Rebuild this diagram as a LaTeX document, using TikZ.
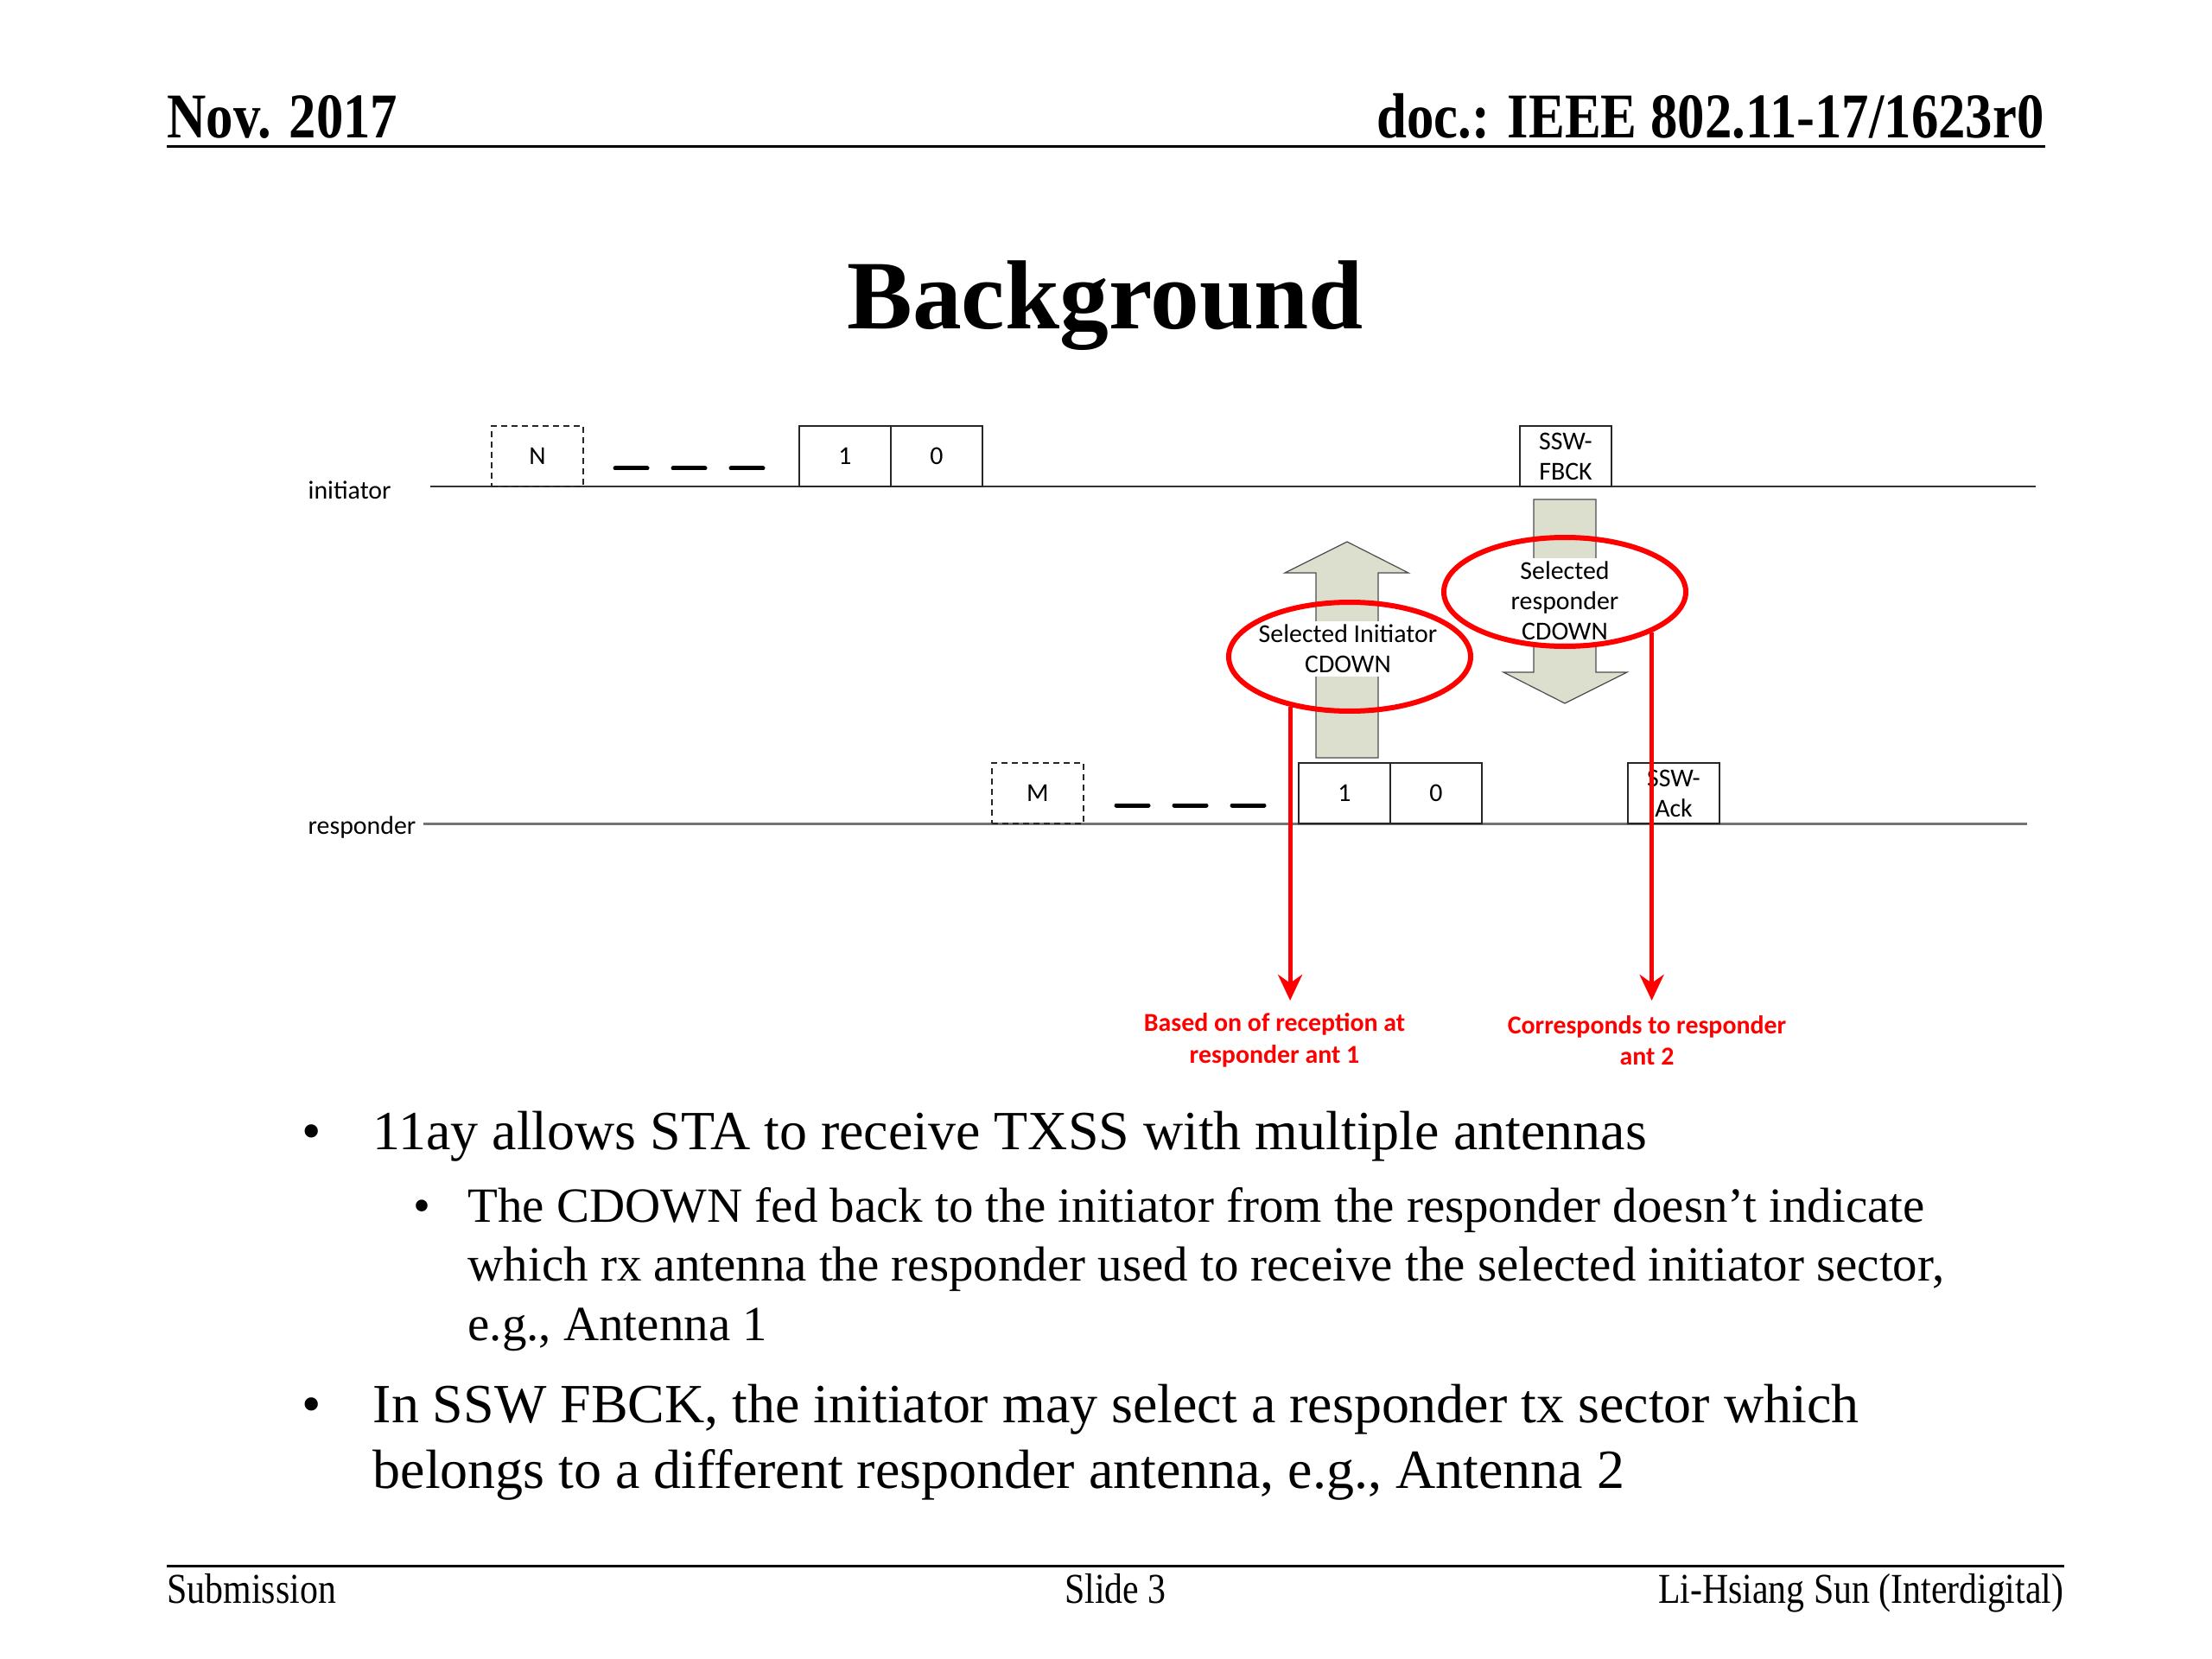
\documentclass[tikz,border=0pt]{standalone}
\usepackage{fontspec}
\setmainfont{Liberation Serif}
\newfontfamily\calib{Carlito}
\newfontfamily\hdrfont[FakeStretch=0.85]{Liberation Serif}
\usetikzlibrary{shapes.geometric,arrows.meta}
\definecolor{arrfill}{RGB}{221,223,206}
\definecolor{pptred}{RGB}{255,0,0}
\tikzset{
  slidetxt/.style={inner sep=0pt},
  diag/.style={font=\calib\fontsize{8.5}{10}\selectfont},
  slot/.style={diag,draw=black!85,line width=0.015cm,minimum width=1.06cm,minimum height=0.7cm,inner sep=0pt,align=center},
  dslot/.style={slot,dash pattern=on 0.07cm off 0.05cm},
  ring/.style={ellipse,draw=pptred,line width=0.06cm,minimum width=2.8cm,minimum height=1.26cm,inner sep=0pt},
  blockarr/.style={draw=black!70,fill=arrfill,line width=0.012cm,line join=miter},
  redarr/.style={draw=pptred,line width=0.05cm,-{Stealth[length=0.3cm,width=0.28cm]}},
  redtxt/.style={font=\calib\bfseries\fontsize{8.5}{10.4}\selectfont,text=pptred,align=center},
  lvlone/.style={slidetxt,anchor=base west,font=\fontsize{18.2}{22}\selectfont},
  lvltwo/.style={slidetxt,anchor=base west,font=\fontsize{16.2}{19}\selectfont},
  foot/.style={slidetxt,font=\hdrfont\fontsize{14}{16}\selectfont}
}
\begin{document}
\begin{tikzpicture}
\fill[white] (0,0) rectangle (25.6,-19.2);
\useasboundingbox (0,0) rectangle (25.6,-19.2);

% header
\node[slidetxt,anchor=base west,font=\hdrfont\bfseries\fontsize{21}{25}\selectfont] (date) at (1.93,-1.60) {Nov. 2017};
\node[slidetxt,anchor=base east,font=\hdrfont\bfseries\fontsize{21}{25}\selectfont] (docid) at (23.66,-1.60) {doc.: IEEE 802.11-17/1623r0};
\draw[line width=0.03cm] (1.93,-1.70) -- (23.67,-1.70);
\node[slidetxt,anchor=base,font=\bfseries\fontsize{32.3}{38}\selectfont] (title) at (12.79,-3.81) {Background};

% time lines
\node[diag,anchor=west,inner sep=0pt] (ilbl) at (3.56,-5.67) {initiator};
\node[diag,anchor=west,inner sep=0pt] (rlbl) at (3.56,-9.58) {responder};
\draw[line width=0.02cm,black!80] (4.98,-5.63) -- (23.56,-5.63);
\draw[line width=0.03cm,black!55] (4.90,-9.53) -- (23.46,-9.53);

\node[dslot] (iN) at (6.22,-5.28) {N};
\draw[line width=0.05cm,line cap=round,dash pattern=on 0.37cm off 0.3cm] (7.12,-5.42) -- (8.84,-5.42);
\node[slot] (i1) at (9.78,-5.28) {1};
\node[slot] (i0) at (10.84,-5.28) {0};
\node[slot] (fbck) at (18.12,-5.28) {SSW-\\FBCK};

\node[dslot] (rM) at (12.01,-9.18) {M};
\draw[line width=0.05cm,line cap=round,dash pattern=on 0.37cm off 0.3cm] (12.92,-9.32) -- (14.64,-9.32);
\node[slot] (r1) at (15.56,-9.18) {1};
\node[slot] (r0) at (16.62,-9.18) {0};
\node[slot] (ack) at (19.37,-9.18) {SSW-\\Ack};

% block arrows
\draw[blockarr] (15.23,-8.77) -- (15.23,-6.63) -- (14.87,-6.63) -- (15.59,-6.27) -- (16.30,-6.63) -- (15.95,-6.63) -- (15.95,-8.77) -- cycle;
\draw[blockarr] (17.75,-5.78) -- (17.75,-7.78) -- (17.40,-7.78) -- (18.11,-8.14) -- (18.83,-7.78) -- (18.47,-7.78) -- (18.47,-5.78) -- cycle;

\node[diag,fill=white,align=center,inner sep=1pt] (selItxt) at (15.60,-7.51) {Selected Initiator\\CDOWN};
\node[diag,fill=white,align=center,inner sep=1pt] (selRtxt) at (18.11,-6.95) {Selected\\responder\\CDOWN};
\node[ring] (selI) at (15.62,-7.60) {};
\node[ring] (selR) at (18.11,-6.85) {};

% red notes
\coordinate (tipA) at (14.96,-11.58);
\coordinate (tipB) at (19.07,-11.58);
\draw[redarr] (selI.220) -- (selI.220 |- tipA);
\draw[redarr] (selR.335) -- (selR.335 |- tipB);
\node[redtxt] (antA) at (14.75,-12.04) {Based on of reception at\\responder ant 1};
\node[redtxt] (antB) at (19.06,-12.04) {Corresponds to responder\\ant 2};

% bullets
\node[lvlone] (d1) at (3.49,-13.30) {•};
\node[lvlone] (b1) at (4.31,-13.30) {11ay allows STA to receive TXSS with multiple antennas};
\node[lvltwo] (d2) at (4.78,-14.14) {•};
\node[lvltwo] (b2a) at (5.41,-14.14) {The CDOWN fed back to the initiator from the responder doesn't indicate};
\node[lvltwo] (b2b) at (5.41,-14.82) {which rx antenna the responder used to receive the selected initiator sector,};
\node[lvltwo] (b2c) at (5.41,-15.51) {e.g., Antenna 1};
\node[lvlone] (d3) at (3.49,-16.46) {•};
\node[lvlone] (b3a) at (4.31,-16.46) {In SSW FBCK, the initiator may select a responder tx sector which};
\node[lvlone] (b3b) at (4.31,-17.22) {belongs to a different responder antenna, e.g., Antenna 2};

% footer
\draw[line width=0.03cm] (1.93,-18.12) -- (23.89,-18.12);
\node[foot,anchor=base west] (subm) at (1.93,-18.55) {Submission};
\node[foot,anchor=base] (slide) at (12.91,-18.55) {Slide 3};
\node[foot,anchor=base east] (author) at (23.89,-18.55) {Li-Hsiang Sun (Interdigital)};
\end{tikzpicture}
\end{document}
